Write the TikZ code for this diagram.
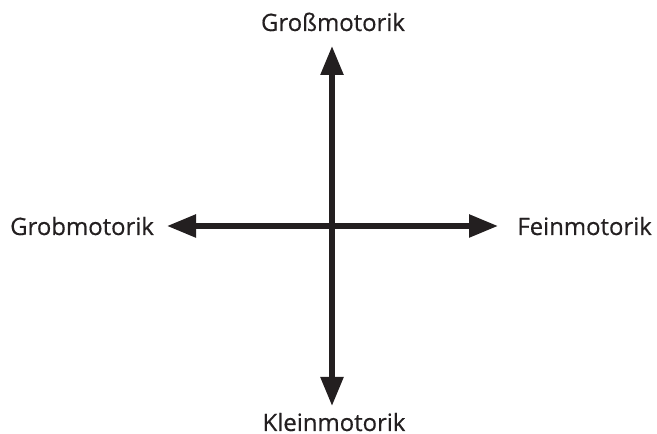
\documentclass[tikz,border=0pt]{standalone}
\usepackage{fontspec}
\setmainfont{Open Sans}
\newfontfamily\lblfont{Open Sans}[FakeBold=0.5]
\usetikzlibrary{arrows.meta}
\definecolor{ink}{HTML}{231F20}
\begin{document}
\begin{tikzpicture}[x=1bp,y=1bp,
  axis/.style={draw=ink,line width=5.5bp,
    arrows={Triangle[length=29bp,width=22bp]-Triangle[length=29bp,width=22bp]}},
  lbl/.style={inner sep=0pt,text=ink,font=\lblfont\fontsize{24}{28}\selectfont}]
  \useasboundingbox (0,0) rectangle (657,434);
  % axis end points
  \coordinate (top) at (332,388);
  \coordinate (bot) at (332,28);
  \coordinate (lft) at (167,208);
  \coordinate (rgt) at (498,208);
  \draw[axis] (bot) -- (top);
  \draw[axis] (lft) -- (rgt);
  % labels
  \node[lbl,anchor=base] (gross) at (333,403) {Großmotorik};
  \node[lbl,anchor=base] (klein) at (334,3) {Kleinmotorik};
  \node[lbl,anchor=base west] (grob) at (10,199) {Grobmotorik};
  \node[lbl,anchor=base east] (fein) at (652,199) {Feinmotorik};
\end{tikzpicture}
\end{document}
